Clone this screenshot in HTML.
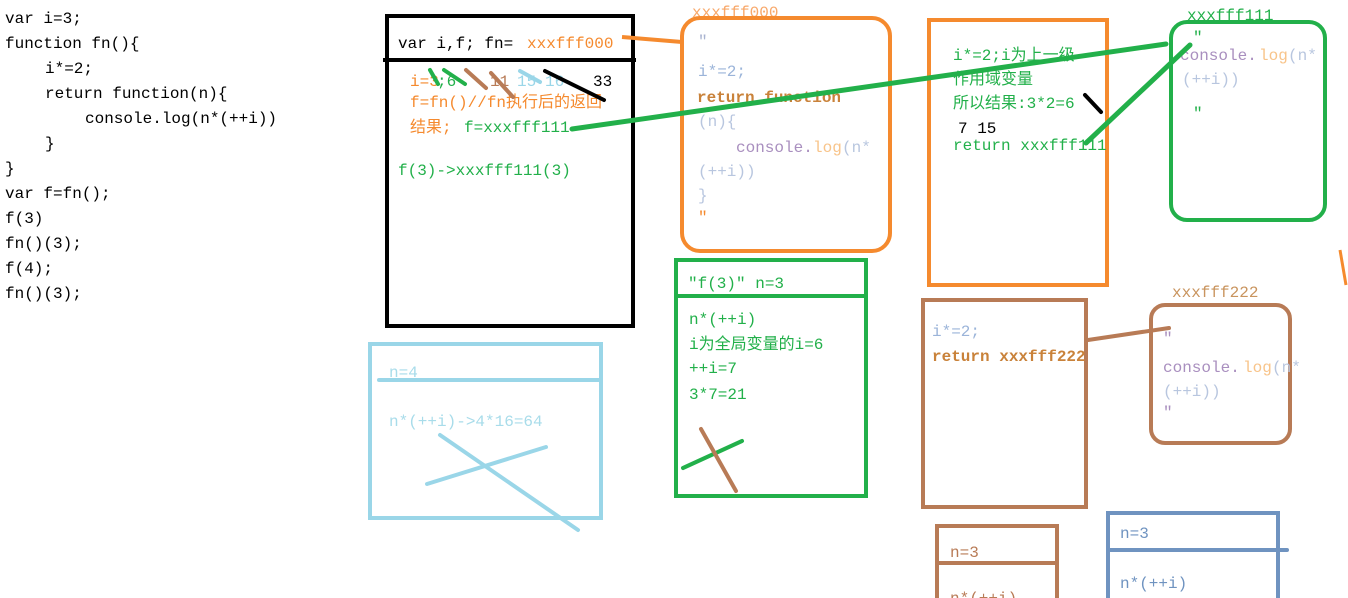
<!DOCTYPE html>
<html><head><meta charset="utf-8"><style>
html,body{margin:0;padding:0;background:#fff;width:1348px;height:598px;overflow:hidden}
svg{display:block}
text{font-family:"Liberation Mono","Noto Serif CJK SC",monospace;font-size:16px}
.c{font-family:"Liberation Mono","Noto Sans CJK SC",monospace}
</style></head><body>
<svg width="1348" height="598" viewBox="0 0 1348 598" xmlns="http://www.w3.org/2000/svg">
<g fill="#000">
<text x="5" y="23">var i=3;</text>
<text x="5" y="48" class="c">function fn(){</text>
<text x="45" y="73">i*=2;</text>
<text x="45" y="98" class="c">return function(n){</text>
<text x="85" y="123">console.log(n*(++i))</text>
<text x="45" y="148">}</text>
<text x="5" y="173">}</text>
<text x="5" y="198" class="c">var f=fn();</text>
<text x="5" y="223">f(3)</text>
<text x="5" y="248" class="c">fn()(3);</text>
<text x="5" y="273">f(4);</text>
<text x="5" y="298" class="c">fn()(3);</text>
</g>
<!-- black box -->
<rect x="387" y="16" width="246" height="310" fill="none" stroke="#000" stroke-width="4"/>
<line x1="383" y1="60" x2="636" y2="60" stroke="#000" stroke-width="4"/>
<text x="398" y="48" fill="#000">var i,f; fn=</text><text x="527" y="48" fill="#f58a2e">xxxfff000</text>
<text x="410" y="86" fill="#f58a2e">i=3</text><text x="437" y="86" fill="#22b04a">;6</text>
<text x="490" y="86" fill="#b87b56">11</text><text x="517" y="86" fill="#9ad6e8">15</text><text x="545" y="86" fill="#9ad6e8">16</text>
<text x="593" y="86" fill="#000">33</text>
<text x="410" y="107" class="c" fill="#f58a2e">f=fn()//fn执行后的返回</text>
<text x="410" y="132" class="c" fill="#f58a2e">结果;</text><text x="464" y="132" fill="#22b04a">f=xxxfff111</text>
<text x="398" y="175" fill="#22b04a">f(3)-&gt;xxxfff111(3)</text>
<g stroke-linecap="round" stroke-width="4">
<line x1="430" y1="70" x2="438" y2="84" stroke="#22b04a"/>
<line x1="444" y1="70" x2="465" y2="84" stroke="#22b04a"/>
<line x1="466" y1="70" x2="486" y2="88" stroke="#b87b56"/>
<line x1="491" y1="73" x2="513" y2="97" stroke="#b87b56"/>
<line x1="520" y1="71" x2="540" y2="82" stroke="#9ad6e8"/>
<line x1="545" y1="71" x2="604" y2="100" stroke="#000"/>
</g>
<!-- orange rounded box -->
<text x="692" y="17" fill="#f8a86a">xxxfff000</text>
<rect x="682" y="18" width="208" height="233" rx="18" fill="none" stroke="#f58a2e" stroke-width="4"/>
<line x1="622" y1="37" x2="682" y2="42" stroke="#f58a2e" stroke-width="4"/>
<text x="698" y="46" fill="#a9b3d0">"</text>
<text x="698" y="76" fill="#9bb4d9">i*=2;</text>
<text x="697" y="102" fill="#c9823a" font-weight="bold">return function</text>
<text x="698" y="126" fill="#b8c6df">(n){</text>
<text x="736" y="152" fill="#a98fbf">console.</text><text x="813" y="152" fill="#f8c48a">log</text><text x="842" y="152" fill="#b8c6df">(n*</text>
<text x="698" y="176" fill="#b8c6df">(++i))</text>
<text x="698" y="200" fill="#b8c6df">}</text>
<text x="698" y="222" fill="#f58a2e">"</text>
<!-- orange rect -->
<rect x="929" y="20" width="178" height="265" fill="none" stroke="#f58a2e" stroke-width="4"/>
<text x="953" y="60" class="c" fill="#22b04a">i*=2;i为上一级</text>
<text x="953" y="84" class="c" fill="#22b04a">作用域变量</text>
<text x="953" y="108" class="c" fill="#22b04a">所以结果:3*2=6</text>
<text x="958" y="133" fill="#000">7 15</text>
<text x="953" y="150" fill="#22b04a">return xxxfff111</text>
<line x1="1085" y1="95" x2="1101" y2="112" stroke="#000" stroke-width="4" stroke-linecap="round"/>
<!-- green rounded -->
<text x="1187" y="20" fill="#22b04a">xxxfff111</text>
<rect x="1171" y="22" width="154" height="198" rx="16" fill="none" stroke="#22b04a" stroke-width="4"/>
<text x="1193" y="42" fill="#22b04a">"</text>
<text x="1180" y="60" fill="#a98fbf">console.</text><text x="1259" y="60" fill="#f8c48a">log</text><text x="1288" y="60" fill="#b8c6df">(n*</text>
<text x="1182" y="84" fill="#b8c6df">(++i))</text>
<text x="1193" y="118" fill="#22b04a">"</text>
<line x1="1340" y1="250" x2="1346" y2="285" stroke="#f58a2e" stroke-width="3"/>
<!-- green connectors -->
<g stroke="#22b04a" stroke-width="5" stroke-linecap="round">
<line x1="572" y1="129" x2="1166" y2="44"/>
<line x1="1086" y1="143" x2="1190" y2="45"/>
</g>
<!-- green f(3) box -->
<rect x="676" y="260" width="190" height="236" fill="none" stroke="#22b04a" stroke-width="4"/>
<line x1="676" y1="296" x2="866" y2="296" stroke="#22b04a" stroke-width="4"/>
<text x="688" y="288" fill="#22b04a">"f(3)"  n=3</text>
<text x="689" y="324" fill="#22b04a">n*(++i)</text>
<text x="689" y="349" class="c" fill="#22b04a">i为全局变量的i=6</text>
<text x="689" y="373" fill="#22b04a">++i=7</text>
<text x="689" y="399" fill="#22b04a">3*7=21</text>
<line x1="683" y1="468" x2="742" y2="441" stroke="#22b04a" stroke-width="4" stroke-linecap="round"/>
<line x1="701" y1="429" x2="736" y2="491" stroke="#b87b56" stroke-width="4" stroke-linecap="round"/>
<!-- light blue box -->
<rect x="370" y="344" width="231" height="174" fill="none" stroke="#9ad6e8" stroke-width="4"/>
<line x1="379" y1="380" x2="601" y2="380" stroke="#9ad6e8" stroke-width="4" stroke-linecap="round"/>
<text x="389" y="377" fill="#a8dcea">n=4</text>
<text x="389" y="426" fill="#a8dcea">n*(++i)-&gt;4*16=64</text>
<g stroke="#9ad6e8" stroke-width="4" stroke-linecap="round">
<line x1="440" y1="435" x2="578" y2="530"/>
<line x1="427" y1="484" x2="546" y2="447"/>
</g>
<!-- brown rect -->
<rect x="923" y="300" width="163" height="207" fill="none" stroke="#b87b56" stroke-width="4"/>
<text x="932" y="336" fill="#9bb4d9">i*=2;</text>
<text x="932" y="361" fill="#c9823a" font-weight="bold">return xxxfff222</text>
<line x1="1088" y1="340" x2="1169" y2="328" stroke="#b87b56" stroke-width="4" stroke-linecap="round"/>
<!-- brown rounded -->
<text x="1172" y="297" fill="#c9945e">xxxfff222</text>
<rect x="1151" y="305" width="139" height="138" rx="14" fill="none" stroke="#b87b56" stroke-width="4"/>
<text x="1163" y="343" fill="#a98fbf">"</text>
<text x="1163" y="372" fill="#a98fbf">console.</text><text x="1243" y="372" fill="#f8c48a">log</text><text x="1272" y="372" fill="#b8c6df">(n*</text>
<text x="1163" y="396" fill="#b8c6df">(++i))</text>
<text x="1163" y="417" fill="#a98fbf">"</text>
<!-- bottom brown -->
<rect x="937" y="526" width="120" height="80" fill="none" stroke="#b87b56" stroke-width="4"/>
<line x1="937" y1="563" x2="1059" y2="563" stroke="#b87b56" stroke-width="4"/>
<text x="950" y="557" fill="#b87b56">n=3</text>
<text x="950" y="603" fill="#b87b56">n*(++i)</text>
<!-- bottom blue -->
<rect x="1108" y="513" width="170" height="95" fill="none" stroke="#6f93c0" stroke-width="4"/>
<line x1="1110" y1="550" x2="1287" y2="550" stroke="#6f93c0" stroke-width="4" stroke-linecap="round"/>
<text x="1120" y="538" fill="#6f93c0">n=3</text>
<text x="1120" y="588" fill="#6f93c0">n*(++i)</text>
</svg>
</body></html>
